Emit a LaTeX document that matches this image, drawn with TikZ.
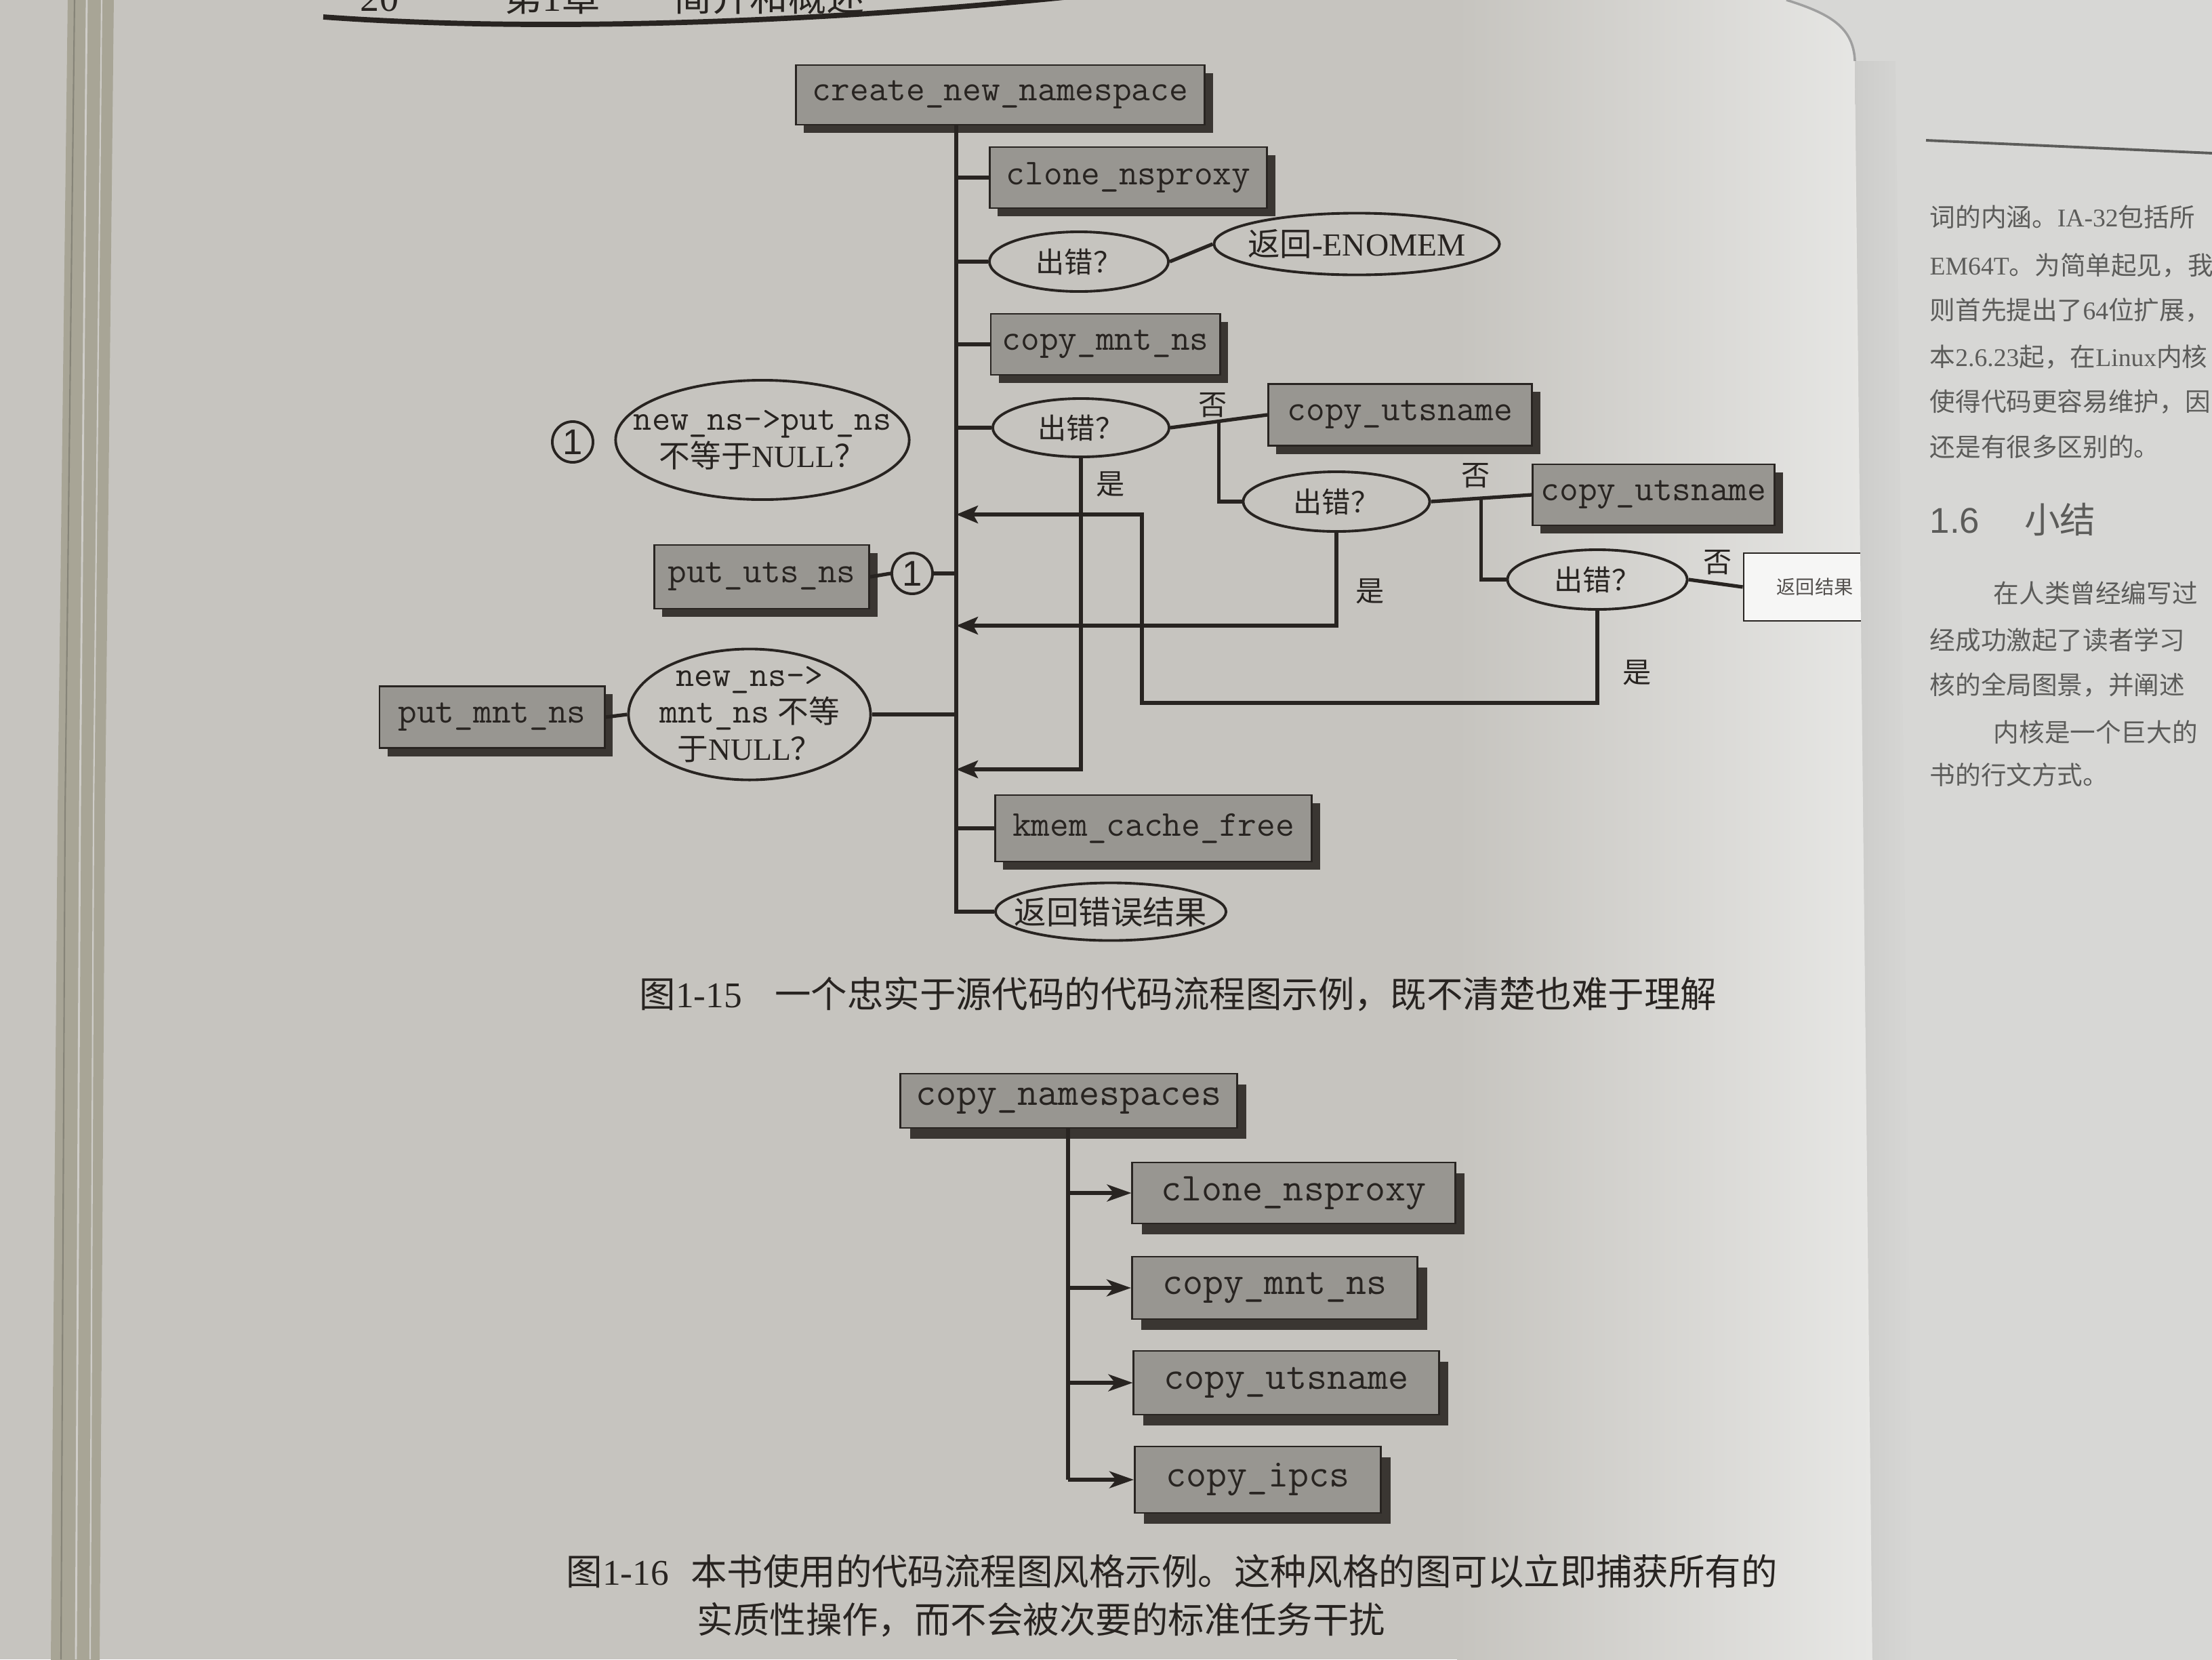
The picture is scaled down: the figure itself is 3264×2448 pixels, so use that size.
\documentclass[tikz,border=0pt]{standalone}
\usepackage{fontspec}
\setmainfont{Liberation Serif}
\newfontfamily\cjk{Noto Sans CJK SC}
\newfontfamily\lsans{Liberation Sans}
\usetikzlibrary{shapes.geometric,arrows.meta,shadows,calc}
\definecolor{pagec}{RGB}{198,196,191}
\definecolor{pagehi}{RGB}{232,232,230}
\definecolor{rpagec}{RGB}{215,215,213}
\definecolor{gutc}{RGB}{204,204,202}
\definecolor{inkc}{RGB}{40,36,33}
\definecolor{boxc}{RGB}{152,150,145}
\definecolor{shadc}{RGB}{58,54,50}
\definecolor{bandc}{RGB}{168,165,150}
\definecolor{rtextc}{RGB}{92,92,90}
\tikzset{
  fbox/.style={rectangle, draw=inkc, line width=0.8pt, fill=boxc, text=inkc, inner sep=0pt,
    font=\ttfamily\fontsize{15.3}{17}\selectfont,
    drop shadow={shadow xshift=0.12cm, shadow yshift=-0.12cm, fill=shadc, opacity=1}},
  fboxb/.style={rectangle, draw=inkc, line width=0.8pt, fill=boxc, text=inkc, inner sep=0pt,
    font=\ttfamily\fontsize{16.6}{18}\selectfont,
    drop shadow={shadow xshift=0.14cm, shadow yshift=-0.16cm, fill=shadc, opacity=1}},
  ellshape/.style={ellipse, draw=inkc, line width=1.1pt, inner sep=0pt},
  elltext/.style={align=center, text=inkc, inner sep=0pt, font=\fontsize{13}{15.5}\selectfont},
  errtext/.style={elltext, font=\cjk\fontsize{12}{13}\selectfont},
  circ/.style={circle, draw=inkc, line width=1.1pt, minimum size=0.6cm, inner sep=0pt,
    font=\lsans\fontsize{15}{15}\selectfont, text=inkc},
  ln/.style={draw=inkc, line width=1.5pt},
  arr/.style={ln, -{Stealth[length=0.32cm, width=0.26cm, inset=0.07cm]}},
  arrb/.style={ln, -{Stealth[length=0.36cm, width=0.25cm, inset=0.1cm]}},
  lab/.style={font=\cjk\fontsize{12}{12}\selectfont, text=inkc, inner sep=0pt},
  capt/.style={font=\fontsize{15.2}{18}\selectfont, text=inkc, inner sep=0pt, anchor=west},
  rtext/.style={font=\fontsize{10.7}{12}\selectfont, text=rtextc, inner sep=0pt, anchor=west},
}
\begin{document}
\begin{tikzpicture}[x=0.01cm,y=-0.01cm]
\useasboundingbox (0,0) rectangle (3264,2448);
\clip (0,0) rectangle (3264,2448);
% ---------- paper ----------
\fill[pagec] (0,0) rectangle (3264,2448);
\shade[left color=pagec, right color=pagehi] (2150,0) rectangle (2780,2448);
\fill[bandc] (100,-5) -- (168,-5) -- (155,1200) -- (147,2453) -- (75,2453) -- (85,1200) -- cycle;
\draw[pagec!85!white, line width=0.8pt] (128,0) -- (118,1200) -- (112,2448);
\draw[pagec!85!white, line width=0.6pt] (150,0) -- (138,1200) -- (133,2448);
\draw[bandc!80!black, line width=0.6pt] (110,0) -- (96,1200) -- (90,2448);
% ---------- running head ----------
\node[anchor=base, font=\fontsize{16}{16}\selectfont, text=inkc, inner sep=0pt] (hd1) at (560,16) {20};
\node[anchor=base, font=\fontsize{16}{16}\selectfont, text=inkc, inner sep=0pt] (hd2) at (815,16) {{\cjk 第}1{\cjk 章}};
\node[anchor=base, font=\cjk\fontsize{16}{16}\selectfont, text=inkc, inner sep=0pt] (hd3) at (1135,16) {简介和概述};
\draw[inkc, line width=2.2pt] (477,25) .. controls (750,45) and (1150,40) .. (1610,-8);
% ---------- figure 1-15 ----------
\node[fbox, minimum width=6.03cm, minimum height=0.88cm] (cnn) at (1476,140) {create\_new\_namespace};
\node[fbox, minimum width=4.09cm, minimum height=0.90cm] (clone) at (1665,262) {clone\_nsproxy};
\node[ellshape, minimum width=2.64cm, minimum height=0.88cm] (err1) at (1592,386) {};
\node[errtext] (err1t) at (err1.center) {出错？};
\node[ellshape, minimum width=4.21cm, minimum height=0.91cm] (enomem) at (2002,360) {};
\node[elltext, font=\fontsize{13.5}{15}\selectfont] (enomemt) at (enomem.center) {{\cjk 返回}-ENOMEM};
\node[fbox, minimum width=3.38cm, minimum height=0.90cm] (cmnt) at (1631,508) {copy\_mnt\_ns};
\node[ellshape, minimum width=2.60cm, minimum height=0.86cm] (err2) at (1595,631) {};
\node[errtext] (err2t) at (err2.center) {出错？};
\node[fbox, minimum width=3.89cm, minimum height=0.91cm] (uts1) at (2066,612) {copy\_utsname};
\node[ellshape, minimum width=2.75cm, minimum height=0.88cm] (err3) at (1972,740) {};
\node[errtext] (err3t) at (err3.center) {出错？};
\node[fbox, minimum width=3.57cm, minimum height=0.90cm] (uts2) at (2440,730) {copy\_utsname};
\node[ellshape, minimum width=2.65cm, minimum height=0.88cm] (err4) at (2357,855) {};
\node[errtext] (err4t) at (err4.center) {出错？};
\node[rectangle, draw=inkc, line width=0.8pt, fill=white!60!pagehi, minimum width=2.1cm, minimum height=1.0cm,
      font=\cjk\fontsize{8}{8}\selectfont, text=inkc!80] (ret) at (2678,866) {返回结果};
\node[lab] (no1) at (1790,598) {否};
\node[lab] (no2) at (2178,702) {否};
\node[lab] (no3) at (2535,830) {否};
\node[lab] (yes1) at (1639,714) {是};
\node[lab] (yes2) at (2022,872) {是};
\node[lab] (yes3) at (2416,992) {是};
\node[circ] (c1) at (845,652) {1};
\node[ellshape, minimum width=4.33cm, minimum height=1.76cm] (q1) at (1125,649) {};
\node[elltext] (q1t) at (q1.center)
  {{\ttfamily\fontsize{15}{15.5}\selectfont new\_ns->put\_ns}\\{\cjk 不等于}NULL{\cjk ？}};
\node[fbox, minimum width=3.17cm, minimum height=0.94cm] (puts) at (1124,851) {put\_uts\_ns};
\node[circ] (c2) at (1346,846) {1};
\node[fbox, minimum width=3.32cm, minimum height=0.91cm] (pmnt) at (726,1058) {put\_mnt\_ns};
\node[ellshape, minimum width=3.57cm, minimum height=1.93cm] (q2) at (1106,1054) {};
\node[elltext] (q2t) at (q2.center)
  {{\ttfamily\fontsize{15}{15.5}\selectfont new\_ns->}\\{\ttfamily\fontsize{15}{15.5}\selectfont mnt\_ns}\ {\cjk 不等}\\{\cjk 于}NULL{\cjk ？}};
\node[fbox, minimum width=4.67cm, minimum height=0.98cm] (kmem) at (1702,1222) {kmem\_cache\_free};
\node[ellshape, minimum width=3.40cm, minimum height=0.85cm] (reterr) at (1639,1345) {};
\node[elltext, font=\cjk\fontsize{13.5}{14}\selectfont] (reterrt) at (reterr.center) {返回错误结果};
% connectors
\coordinate (mx) at (1411,0);
\draw[ln] (cnn.south -| mx) |- (reterr.west);
\draw[ln] (mx |- clone.west) -- (clone.west);
\draw[ln] (mx |- err1.west) -- (err1.west);
\draw[ln] (err1.east) -- (enomem.west);
\draw[ln] (mx |- cmnt.west) -- (cmnt.west);
\draw[ln] (mx |- err2.west) -- (err2.west);
\draw[ln] (err2.east) -- (uts1.west);
\coordinate (b1) at ($(err2.east)!0.5!(uts1.west)$);
\draw[ln] (b1) |- (err3.west);
\draw[ln] (err3.east) -- (uts2.west);
\coordinate (b2) at ($(err3.east)!0.5!(uts2.west)$);
\draw[ln] (b2) |- (err4.west);
\draw[ln] (err4.east) -- (ret.west);
\coordinate (a1) at (1411,759);
\coordinate (a2) at (1411,923);
\coordinate (a3) at (1411,1135);
\coordinate (k1) at (1685,1037);
\draw[arr] (err2.south) |- (a3);
\draw[arr] (err3.south) |- (a2);
\draw[arr] (err4.south) |- (k1) |- (a1);
\draw[ln] (puts.east) -- (c2.west);
\draw[ln] (c2.east) -- (mx |- c2.east);
\draw[ln] (pmnt.east) -- (q2.west);
\draw[ln] (q2.east) -- (mx |- q2.east);
\draw[ln] (mx |- kmem.west) -- (kmem.west);
\node[capt] (cap1) at (943,1467) {{\cjk 图}1-15\hspace{0.9em}{\cjk 一个忠实于源代码的代码流程图示例，既不清楚也难于理解}};
% ---------- figure 1-16 ----------
\node[fboxb, minimum width=4.96cm, minimum height=0.80cm] (cns) at (1577,1624) {copy\_namespaces};
\node[fboxb, minimum width=4.76cm, minimum height=0.90cm] (cl2) at (1909,1760) {clone\_nsproxy};
\node[fboxb, minimum width=4.21cm, minimum height=0.92cm] (cm2) at (1881,1900) {copy\_mnt\_ns};
\node[fboxb, minimum width=4.50cm, minimum height=0.94cm] (cu2) at (1898,2040) {copy\_utsname};
\node[fboxb, minimum width=3.63cm, minimum height=0.98cm] (ci2) at (1856,2183) {copy\_ipcs};
\coordinate (vx) at (1576,0);
\draw[ln] (cns.south -| vx) -- (vx |- ci2.west);
\draw[arrb] (vx |- cl2.west) -- (cl2.west);
\draw[arrb] (vx |- cm2.west) -- (cm2.west);
\draw[arrb] (vx |- cu2.west) -- (cu2.west);
\draw[arrb] (vx |- ci2.west) -- (ci2.west);
\node[capt] (cap2a) at (835,2318) {{\cjk 图}1-16\hspace{0.6em}{\cjk 本书使用的代码流程图风格示例。这种风格的图可以立即捕获所有的}};
\node[capt] (cap2b) at (1028,2390) {{\cjk 实质性操作，而不会被次要的标准任务干扰}};
% ---------- right page ----------
\fill[rpagec] (2636,-2) .. controls (2700,20) and (2735,40) .. (2737,90) -- (2763,2450) -- (3266,2450) -- (3266,-2) -- cycle;
\shade[left color=gutc, right color=rpagec] (2737,90) -- (2763,2450) -- (2823,2450) -- (2797,90) -- cycle;
\draw[gray!75, line width=1pt] (2636,0) .. controls (2700,20) and (2735,40) .. (2737,90);
\draw[rtextc, line width=1.1pt] (2842,207) -- (3264,226);
\node[rtext] (r1) at (2847,320) {{\cjk 词的内涵。}IA-32{\cjk 包括所}};
\node[rtext] (r2) at (2847,392) {EM64T{\cjk 。为简单起见，我}};
\node[rtext] (r3) at (2847,458) {{\cjk 则首先提出了}64{\cjk 位扩展，}};
\node[rtext] (r4) at (2847,527) {{\cjk 本}2.6.23{\cjk 起，在}Linux{\cjk 内核}};
\node[rtext] (r5) at (2847,593) {{\cjk 使得代码更容易维护，因}};
\node[rtext] (r6) at (2847,659) {{\cjk 还是有很多区别的。}};
\node[anchor=west, inner sep=0pt, text=rtextc, font=\lsans\fontsize{15}{15}\selectfont] (rh) at (2847,766) {1.6\hspace{1.25em}{\cjk 小结}};
\node[rtext] (p1) at (2941,875) {{\cjk 在人类曾经编写过}};
\node[rtext] (p2) at (2847,944) {{\cjk 经成功激起了读者学习}};
\node[rtext] (p3) at (2847,1010) {{\cjk 核的全局图景，并阐述}};
\node[rtext] (p4) at (2941,1080) {{\cjk 内核是一个巨大的}};
\node[rtext] (p5) at (2847,1143) {{\cjk 书的行文方式。}};
\end{tikzpicture}
\end{document}
